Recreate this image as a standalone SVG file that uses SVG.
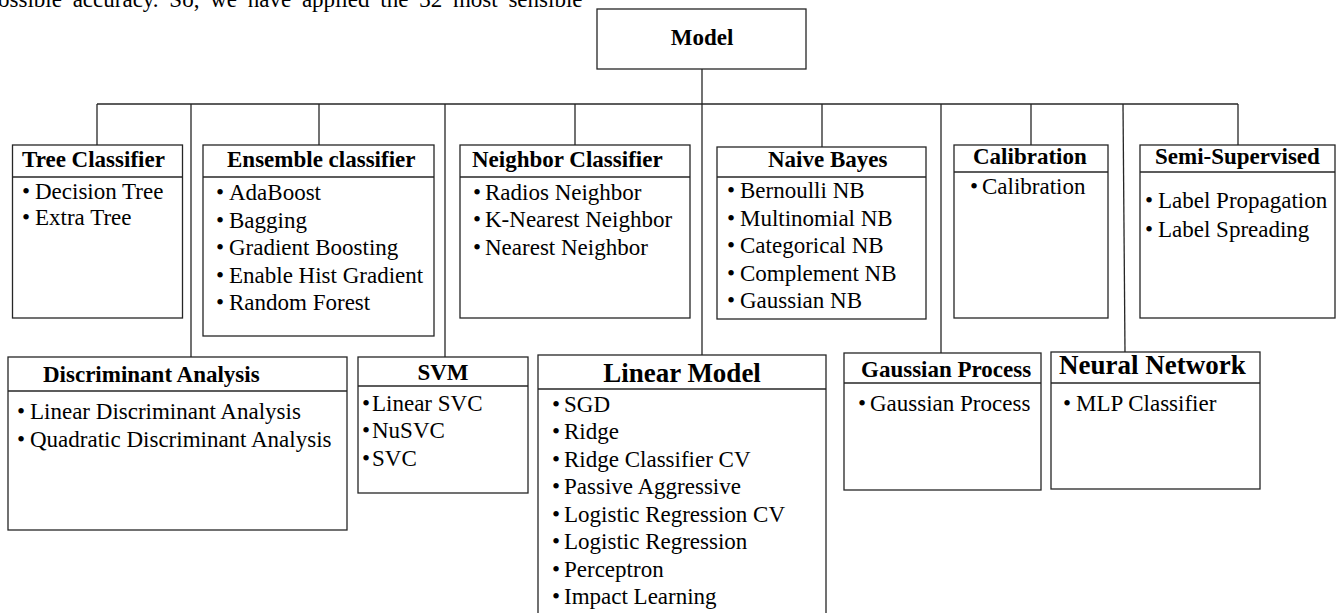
<svg xmlns="http://www.w3.org/2000/svg" width="1338" height="613" viewBox="0 0 1338 613">
<style>
.box{fill:#fff;stroke:#262626;stroke-width:1.3}
.div{stroke:#262626;stroke-width:1.3}
.con line{stroke:#262626;stroke-width:1.3}
text{font-family:"Liberation Serif","Times New Roman",serif;fill:#000}
.h{font-size:23px;font-weight:bold}
.hb{font-size:27px;font-weight:bold}
.t{font-size:23px}
.b{font-size:23px}
</style>
<rect width="1338" height="613" fill="#fff"/>
<text class="t" x="-2" y="7" word-spacing="5">ossible accuracy. So, we have applied the 32 most sensible</text>

<g class="con">
<line x1="702" y1="69" x2="702" y2="355"/>
<line x1="97" y1="104" x2="1238" y2="104"/>
<line x1="97" y1="104" x2="97" y2="145"/>
<line x1="191" y1="104" x2="191" y2="357"/>
<line x1="319" y1="104" x2="319" y2="145"/>
<line x1="445" y1="104" x2="445" y2="357"/>
<line x1="575" y1="104" x2="575" y2="145"/>
<line x1="822" y1="104" x2="822" y2="147"/>
<line x1="941" y1="104" x2="941" y2="353"/>
<line x1="1031" y1="104" x2="1031" y2="145"/>
<line x1="1123" y1="104" x2="1125" y2="352"/>
<line x1="1238" y1="104" x2="1238" y2="145"/>
</g>

<g id="model">
<rect class="box" x="597" y="9" width="209" height="60"/>
<text class="h" x="702" y="45" text-anchor="middle">Model</text>
</g>

<g id="tree">
<rect class="box" x="12.5" y="145" width="170" height="173"/>
<line class="div" x1="12.5" y1="177" x2="182.5" y2="177"/>
<text class="h" x="22" y="167">Tree Classifier</text>
<text class="b" x="22" y="199">•<tspan x="35">Decision Tree</tspan></text>
<text class="b" x="22" y="225">•<tspan x="35">Extra Tree</tspan></text>
</g>

<g id="ensemble">
<rect class="box" x="203" y="145" width="231" height="191"/>
<line class="div" x1="203" y1="177" x2="434" y2="177"/>
<text class="h" x="227" y="167">Ensemble classifier</text>
<text class="b" x="216" y="200">•<tspan x="229">AdaBoost</tspan></text>
<text class="b" x="216" y="227.5">•<tspan x="229">Bagging</tspan></text>
<text class="b" x="216" y="255">•<tspan x="229">Gradient Boosting</tspan></text>
<text class="b" x="216" y="283">•<tspan x="229">Enable Hist Gradient</tspan></text>
<text class="b" x="216" y="310">•<tspan x="229">Random Forest</tspan></text>
</g>

<g id="neighbor">
<rect class="box" x="460" y="145" width="230" height="173"/>
<line class="div" x1="460" y1="177" x2="690" y2="177"/>
<text class="h" x="472" y="167">Neighbor Classifier</text>
<text class="b" x="473" y="200">•<tspan x="485">Radios Neighbor</tspan></text>
<text class="b" x="473" y="227">•<tspan x="485">K-Nearest Neighbor</tspan></text>
<text class="b" x="473" y="255">•<tspan x="485">Nearest Neighbor</tspan></text>
</g>

<g id="naive-bayes">
<rect class="box" x="717" y="147" width="209" height="172"/>
<line class="div" x1="717" y1="177" x2="926" y2="177"/>
<text class="h" x="768" y="167">Naive Bayes</text>
<text class="b" x="727" y="198">•<tspan x="740">Bernoulli NB</tspan></text>
<text class="b" x="727" y="226">•<tspan x="740">Multinomial NB</tspan></text>
<text class="b" x="727" y="253">•<tspan x="740">Categorical NB</tspan></text>
<text class="b" x="727" y="281">•<tspan x="740">Complement NB</tspan></text>
<text class="b" x="727" y="308">•<tspan x="740">Gaussian NB</tspan></text>
</g>

<g id="calibration">
<rect class="box" x="954" y="145" width="154" height="173"/>
<line class="div" x1="954" y1="172" x2="1108" y2="172"/>
<text class="h" x="973" y="164">Calibration</text>
<text class="b" x="970" y="194">•<tspan x="982">Calibration</tspan></text>
</g>

<g id="semi-supervised">
<rect class="box" x="1140" y="145" width="195" height="173"/>
<line class="div" x1="1140" y1="172" x2="1335" y2="172"/>
<text class="h" x="1155" y="164">Semi-Supervised</text>
<text class="b" x="1145" y="208">•<tspan x="1158">Label Propagation</tspan></text>
<text class="b" x="1145" y="237">•<tspan x="1158">Label Spreading</tspan></text>
</g>

<g id="discriminant">
<rect class="box" x="8" y="357" width="339" height="173"/>
<line class="div" x1="8" y1="391" x2="347" y2="391"/>
<text class="h" x="43" y="382">Discriminant Analysis</text>
<text class="b" x="17" y="419">•<tspan x="30">Linear Discriminant Analysis</tspan></text>
<text class="b" x="17" y="447">•<tspan x="30">Quadratic Discriminant Analysis</tspan></text>
</g>

<g id="svm">
<rect class="box" x="358" y="357" width="170" height="136"/>
<line class="div" x1="358" y1="386" x2="528" y2="386"/>
<text class="h" x="443" y="380" text-anchor="middle">SVM</text>
<text class="b" x="362" y="411">•<tspan x="372">Linear SVC</tspan></text>
<text class="b" x="362" y="438">•<tspan x="372">NuSVC</tspan></text>
<text class="b" x="362" y="466">•<tspan x="372">SVC</tspan></text>
</g>

<g id="linear-model">
<rect class="box" x="538" y="355" width="288" height="270"/>
<line class="div" x1="538" y1="389" x2="826" y2="389"/>
<text class="hb" x="682" y="382" text-anchor="middle">Linear Model</text>
<text class="b" x="552" y="412">•<tspan x="564">SGD</tspan></text>
<text class="b" x="552" y="439">•<tspan x="564">Ridge</tspan></text>
<text class="b" x="552" y="467">•<tspan x="564">Ridge Classifier CV</tspan></text>
<text class="b" x="552" y="494">•<tspan x="564">Passive Aggressive</tspan></text>
<text class="b" x="552" y="522">•<tspan x="564">Logistic Regression CV</tspan></text>
<text class="b" x="552" y="549">•<tspan x="564">Logistic Regression</tspan></text>
<text class="b" x="552" y="577">•<tspan x="564">Perceptron</tspan></text>
<text class="b" x="552" y="604">•<tspan x="564">Impact Learning</tspan></text>
</g>

<g id="gaussian-process">
<rect class="box" x="844" y="353" width="197" height="137"/>
<line class="div" x1="844" y1="383" x2="1041" y2="383"/>
<text class="h" x="861" y="377">Gaussian Process</text>
<text class="b" x="858" y="411">•<tspan x="870">Gaussian Process</tspan></text>
</g>

<g id="neural-network">
<rect class="box" x="1051" y="352" width="209" height="137"/>
<line class="div" x1="1051" y1="383" x2="1260" y2="383"/>
<text class="hb" x="1059" y="374">Neural Network</text>
<text class="b" x="1063" y="411">•<tspan x="1076">MLP Classifier</tspan></text>
</g>
</svg>
